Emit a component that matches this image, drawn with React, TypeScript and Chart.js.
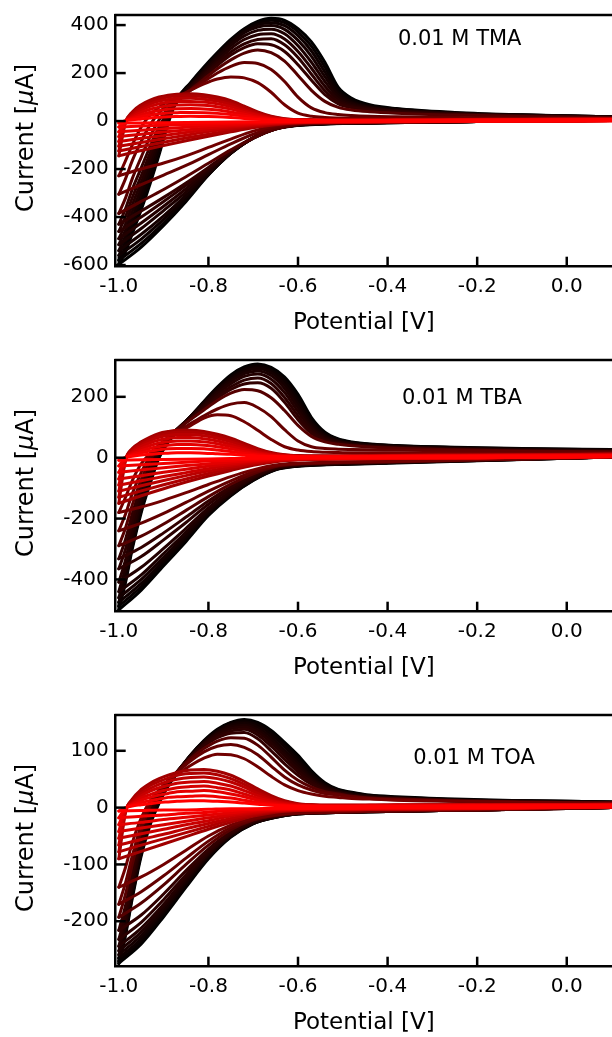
import React, { useEffect, useRef } from "react";
import { Chart, registerables } from "chart.js";

Chart.register(...registerables);

const FONT = '"DejaVu Sans", sans-serif';

// Potential grids (V) shared by every cycle
const POTENTIAL_TICKS = [-1.0, -0.8, -0.6, -0.4, -0.2, 0.0];
const CATHODIC_V = [0.1, -0.2, -0.4, -0.5, -0.55, -0.6, -0.65, -0.7, -0.75, -0.8, -0.85, -0.9, -0.95, -1.0];
const ANODIC_V = [-1.0, -0.985, -0.97, -0.95, -0.93, -0.91, -0.89, -0.87, -0.84, -0.81, -0.78, -0.75, -0.72, -0.69, -0.66, -0.63, -0.6, -0.57, -0.54, -0.51, -0.48, -0.44, -0.38, -0.25, -0.1, 0.1];

// ---------- 0.01 M TMA (µA), cycle 1 (black) ... last cycle (red) ----------
const TMA_TICKS = [-600, -400, -200, 0, 200, 400];
const TMA_ANODIC = [
  [-597, -545, -470, -370, -260, -140, -10, 90, 160, 225, 285, 340, 385, 415, 428, 420, 385, 330, 245, 140, 95, 68, 52, 36, 26, 18],
  [-580, -525, -450, -350, -245, -130, -5, 90, 157, 220, 281, 336, 381, 409, 420, 410, 372, 312, 225, 130, 88, 64, 50, 34, 25, 18],
  [-560, -502, -428, -330, -225, -115, 0, 88, 153, 215, 277, 332, 376, 402, 410, 398, 356, 292, 205, 120, 82, 61, 48, 33, 25, 18],
  [-540, -480, -405, -305, -200, -95, 8, 87, 150, 210, 270, 325, 368, 392, 398, 382, 336, 270, 185, 110, 77, 58, 46, 32, 24, 18],
  [-515, -455, -378, -280, -178, -78, 15, 85, 146, 204, 262, 315, 355, 378, 383, 364, 314, 245, 165, 100, 72, 55, 44, 31, 23, 17],
  [-490, -428, -350, -255, -155, -60, 22, 82, 141, 197, 252, 302, 340, 360, 364, 342, 290, 220, 145, 90, 66, 52, 42, 30, 22, 16],
  [-460, -398, -320, -228, -132, -42, 30, 80, 136, 190, 242, 288, 322, 340, 343, 318, 265, 195, 127, 80, 61, 49, 40, 29, 21, 16],
  [-430, -365, -285, -195, -105, -25, 38, 80, 132, 183, 232, 275, 306, 322, 318, 290, 235, 170, 110, 72, 56, 46, 38, 28, 21, 15],
  [-385, -320, -240, -150, -65, 5, 52, 85, 130, 175, 218, 255, 283, 296, 285, 250, 190, 128, 82, 57, 46, 39, 33, 25, 19, 14],
  [-305, -240, -165, -85, -15, 35, 68, 92, 128, 165, 200, 228, 244, 240, 215, 165, 100, 55, 35, 27, 23, 20, 18, 15, 13, 12],
  [-228, -165, -100, -25, 25, 58, 82, 100, 128, 155, 175, 184, 180, 160, 120, 68, 33, 20, 15, 13, 12, 12, 12, 11, 11, 11],
  [-145, -5, 38, 68, 87, 100, 108, 112, 114, 110, 100, 85, 62, 38, 20, 10, 6, 5, 4, 4, 4, 4, 5, 6, 8, 10],
  [-125, -4, 33, 61, 80, 92, 100, 104, 105, 101, 92, 77, 56, 34, 18, 9, 5, 4, 4, 3, 3, 3, 4, 5, 7, 9],
  [-105, -3, 28, 53, 71, 83, 90, 94, 95, 91, 83, 69, 50, 30, 16, 8, 5, 4, 3, 3, 3, 3, 4, 5, 6, 8],
  [-85, -2, 23, 45, 61, 72, 78, 81, 82, 79, 72, 60, 43, 26, 14, 7, 4, 3, 3, 3, 3, 3, 3, 4, 6, 8],
  [-65, -1, 18, 36, 49, 58, 64, 67, 68, 66, 60, 50, 36, 22, 12, 6, 4, 3, 3, 3, 3, 3, 3, 4, 5, 7],
  [-45, 0, 13, 27, 37, 44, 49, 51, 52, 50, 46, 38, 28, 17, 9, 5, 3, 3, 2, 2, 2, 2, 3, 4, 5, 6],
  [-25, 1, 9, 18, 25, 30, 34, 35, 36, 35, 32, 27, 20, 12, 7, 4, 3, 2, 2, 2, 2, 2, 3, 3, 4, 5],
  [-8, 1, 5, 9, 13, 16, 18, 19, 20, 19, 18, 15, 11, 7, 4, 3, 2, 2, 2, 2, 2, 2, 2, 3, 4, 5],
];
const TMA_CATHODIC = [
  [4, -2, -7, -10, -13, -18, -32, -70, -135, -225, -335, -435, -525, -597],
  [4, -2, -7, -10, -12, -17, -32, -70, -135, -224, -328, -425, -510, -580],
  [4, -2, -7, -10, -12, -17, -32, -70, -134, -222, -320, -410, -492, -560],
  [3, -2, -6, -9, -12, -17, -31, -70, -133, -218, -310, -395, -472, -540],
  [3, -2, -6, -9, -11, -16, -31, -70, -132, -212, -296, -373, -448, -515],
  [3, -2, -6, -9, -11, -16, -32, -70, -130, -205, -282, -355, -425, -490],
  [3, -2, -6, -8, -10, -15, -32, -70, -128, -198, -268, -335, -400, -460],
  [3, -2, -6, -8, -10, -15, -33, -72, -128, -193, -258, -318, -375, -430],
  [3, -2, -5, -7, -9, -14, -33, -70, -120, -176, -232, -285, -335, -385],
  [2, -2, -5, -6, -8, -12, -26, -55, -95, -140, -185, -225, -265, -305],
  [2, -2, -5, -6, -7, -10, -20, -42, -75, -110, -145, -175, -200, -228],
  [2, -1, -3, -4, -5, -8, -15, -28, -45, -63, -82, -102, -123, -145],
  [2, -1, -3, -4, -5, -7, -13, -24, -39, -55, -71, -88, -106, -125],
  [2, -1, -3, -4, -5, -6, -11, -20, -31, -44, -59, -74, -89, -105],
  [2, -1, -2, -3, -4, -5, -9, -16, -25, -36, -48, -60, -72, -85],
  [2, -1, -2, -3, -4, -5, -8, -13, -20, -28, -37, -46, -55, -65],
  [1, -1, -2, -3, -3, -4, -6, -10, -15, -20, -26, -32, -38, -45],
  [1, -1, -1, -2, -2, -3, -4, -6, -9, -12, -15, -18, -21, -25],
  [1, 0, -1, -1, -1, -2, -2, -3, -4, -5, -6, -7, -8, -8],
];

// ---------- 0.01 M TBA (µA) ----------
const TBA_TICKS = [-400, -200, 0, 200];
const TBA_ANODIC = [
  [-500, -410, -300, -180, -85, 0, 50, 85, 135, 185, 232, 272, 298, 308, 297, 265, 208, 132, 84, 62, 52, 45, 40, 34, 30, 27],
  [-488, -400, -292, -172, -78, 5, 53, 87, 135, 183, 229, 268, 294, 304, 292, 258, 198, 124, 80, 60, 50, 44, 39, 33, 29, 26],
  [-475, -390, -283, -164, -70, 10, 56, 89, 135, 181, 226, 263, 289, 299, 286, 250, 188, 117, 76, 57, 48, 43, 38, 32, 28, 25],
  [-460, -378, -272, -155, -62, 15, 59, 91, 135, 179, 222, 258, 283, 293, 279, 240, 177, 110, 72, 55, 47, 42, 37, 31, 27, 24],
  [-440, -360, -258, -143, -52, 20, 62, 93, 134, 176, 217, 251, 276, 285, 270, 228, 165, 102, 68, 53, 45, 40, 36, 30, 26, 23],
  [-409, -335, -238, -128, -42, 25, 64, 94, 133, 172, 211, 243, 267, 275, 258, 214, 152, 95, 64, 51, 44, 39, 35, 29, 25, 22],
  [-365, -300, -210, -108, -30, 30, 66, 94, 131, 167, 203, 233, 255, 262, 244, 198, 138, 87, 60, 49, 42, 38, 34, 28, 24, 21],
  [-332, -268, -185, -92, -20, 33, 67, 93, 128, 162, 196, 224, 242, 246, 228, 182, 125, 80, 57, 47, 41, 37, 33, 27, 23, 20],
  [-289, -230, -155, -72, -8, 37, 68, 92, 125, 157, 188, 212, 224, 220, 197, 155, 106, 70, 52, 44, 39, 35, 31, 26, 22, 19],
  [-240, -185, -118, -48, 5, 40, 65, 85, 112, 138, 160, 176, 181, 165, 135, 92, 55, 36, 30, 28, 27, 26, 25, 22, 20, 18],
  [-180, -130, -75, -20, 15, 42, 62, 80, 105, 130, 141, 138, 118, 90, 60, 36, 25, 20, 18, 17, 16, 16, 16, 15, 14, 13],
  [-150, -8, 30, 52, 68, 80, 86, 90, 90, 86, 77, 64, 47, 30, 17, 10, 7, 6, 6, 6, 6, 7, 8, 9, 10, 12],
  [-130, -6, 27, 48, 63, 74, 80, 84, 84, 80, 71, 58, 42, 27, 15, 9, 6, 5, 5, 5, 6, 6, 7, 8, 9, 11],
  [-110, -5, 24, 43, 57, 67, 73, 76, 76, 72, 64, 52, 37, 23, 13, 8, 5, 5, 5, 5, 5, 6, 7, 8, 9, 11],
  [-90, -4, 20, 37, 49, 58, 63, 66, 66, 62, 55, 44, 31, 19, 11, 7, 5, 4, 4, 4, 5, 5, 6, 7, 8, 10],
  [-70, -3, 16, 30, 40, 48, 52, 55, 55, 52, 46, 37, 26, 16, 9, 6, 4, 4, 4, 4, 4, 5, 6, 7, 8, 9],
  [-48, -2, 12, 23, 31, 37, 41, 43, 43, 41, 36, 29, 20, 12, 7, 5, 4, 3, 3, 4, 4, 4, 5, 6, 7, 8],
  [-27, 0, 8, 16, 22, 26, 29, 30, 30, 29, 25, 20, 14, 9, 5, 4, 3, 3, 3, 3, 3, 4, 4, 5, 6, 7],
  [-8, 1, 5, 9, 11, 14, 15, 16, 16, 15, 13, 11, 8, 5, 4, 3, 3, 3, 3, 3, 3, 3, 4, 4, 5, 6],
];
const TBA_CATHODIC = [
  [2, -10, -18, -22, -24, -28, -40, -75, -125, -190, -275, -355, -435, -500],
  [2, -9, -17, -21, -23, -27, -39, -74, -123, -186, -268, -347, -424, -488],
  [2, -9, -17, -21, -23, -27, -38, -72, -121, -182, -262, -338, -413, -475],
  [2, -9, -16, -20, -22, -26, -37, -70, -118, -178, -255, -328, -400, -460],
  [2, -8, -16, -20, -22, -25, -36, -68, -115, -172, -245, -315, -385, -440],
  [2, -8, -15, -19, -21, -24, -35, -66, -110, -165, -232, -298, -360, -409],
  [2, -8, -15, -18, -20, -23, -33, -62, -103, -153, -213, -270, -325, -365],
  [2, -7, -14, -17, -19, -22, -31, -58, -96, -142, -195, -247, -295, -332],
  [2, -7, -13, -16, -18, -21, -29, -53, -87, -128, -173, -218, -258, -289],
  [2, -7, -13, -15, -17, -20, -27, -47, -76, -110, -147, -183, -215, -240],
  [2, -6, -12, -14, -16, -18, -24, -40, -62, -88, -115, -140, -162, -180],
  [6, 0, -3, -4, -5, -7, -13, -25, -42, -60, -80, -102, -125, -150],
  [5, 0, -3, -4, -5, -7, -12, -22, -36, -52, -70, -89, -109, -130],
  [5, 0, -2, -3, -4, -6, -10, -19, -31, -44, -59, -75, -92, -110],
  [5, 0, -2, -3, -4, -5, -9, -16, -25, -36, -49, -62, -76, -90],
  [4, 0, -2, -3, -3, -4, -7, -12, -20, -28, -38, -48, -59, -70],
  [4, 0, -1, -2, -2, -3, -5, -9, -14, -20, -26, -33, -40, -48],
  [3, 0, -1, -1, -2, -2, -3, -5, -8, -11, -15, -19, -23, -27],
  [3, 0, 0, -1, -1, -1, -2, -2, -3, -4, -5, -6, -7, -8],
];

// ---------- 0.01 M TOA (µA) ----------
const TOA_TICKS = [-200, -100, 0, 100];
const TOA_ANODIC = [
  [-274, -225, -160, -85, -30, 8, 38, 60, 92, 118, 138, 150, 155, 150, 136, 115, 92, 65, 44, 32, 27, 22, 19, 15, 12, 10],
  [-270, -221, -156, -81, -26, 10, 39, 61, 92, 117, 136, 149, 153, 148, 133, 111, 87, 61, 42, 31, 26, 21, 18, 14, 12, 10],
  [-265, -216, -151, -77, -23, 12, 40, 62, 92, 116, 135, 147, 151, 145, 129, 107, 83, 58, 40, 30, 25, 21, 18, 14, 12, 10],
  [-259, -210, -146, -73, -20, 14, 41, 62, 91, 115, 133, 145, 148, 141, 124, 101, 78, 54, 38, 29, 24, 20, 17, 13, 11, 9],
  [-252, -204, -140, -69, -16, 16, 42, 63, 91, 114, 131, 142, 145, 137, 119, 96, 73, 51, 36, 28, 23, 19, 17, 13, 11, 9],
  [-244, -196, -134, -64, -12, 18, 43, 63, 90, 112, 129, 139, 142, 133, 114, 91, 68, 48, 34, 27, 22, 19, 16, 13, 10, 9],
  [-232, -186, -125, -57, -8, 20, 44, 63, 89, 110, 126, 135, 138, 128, 108, 85, 63, 45, 32, 26, 22, 18, 16, 12, 10, 8],
  [-216, -172, -115, -50, -3, 23, 45, 63, 88, 108, 123, 131, 132, 121, 100, 77, 57, 41, 30, 25, 21, 18, 15, 12, 10, 8],
  [-193, -152, -100, -40, 3, 27, 47, 63, 86, 104, 117, 123, 122, 110, 89, 66, 48, 36, 28, 24, 20, 17, 15, 12, 10, 8],
  [-170, -132, -85, -30, 8, 30, 48, 62, 82, 98, 108, 111, 106, 93, 73, 54, 40, 31, 25, 22, 19, 16, 14, 11, 9, 8],
  [-140, -105, -62, -18, 12, 31, 46, 58, 74, 87, 94, 93, 86, 72, 55, 40, 30, 24, 20, 18, 16, 15, 13, 11, 9, 7],
  [-90, -8, 15, 32, 43, 51, 57, 62, 66, 67, 64, 57, 46, 33, 21, 12, 7, 5, 4, 4, 4, 4, 5, 5, 5, 6],
  [-78, -6, 13, 29, 39, 46, 52, 57, 60, 61, 58, 51, 41, 29, 18, 11, 6, 5, 4, 4, 4, 4, 4, 5, 5, 6],
  [-66, -5, 11, 25, 34, 41, 46, 50, 53, 54, 51, 45, 36, 25, 16, 9, 6, 4, 4, 4, 4, 4, 4, 5, 5, 5],
  [-54, -4, 9, 21, 29, 35, 39, 43, 45, 46, 43, 38, 30, 21, 13, 8, 5, 4, 3, 3, 3, 4, 4, 4, 5, 5],
  [-42, -3, 7, 17, 23, 28, 32, 35, 37, 38, 35, 31, 24, 17, 11, 7, 4, 3, 3, 3, 3, 3, 4, 4, 4, 5],
  [-30, -2, 6, 13, 18, 22, 25, 28, 29, 30, 28, 24, 19, 13, 8, 5, 4, 3, 3, 3, 3, 3, 3, 4, 4, 4],
  [-18, -1, 4, 9, 12, 15, 18, 19, 20, 21, 19, 17, 13, 9, 6, 4, 3, 3, 2, 2, 2, 3, 3, 3, 4, 4],
  [-6, 0, 3, 5, 7, 9, 10, 11, 12, 12, 11, 10, 8, 6, 4, 3, 2, 2, 2, 2, 2, 2, 2, 3, 3, 4],
];
const TOA_CATHODIC = [
  [0, -4, -7, -8, -9, -11, -17, -28, -52, -90, -140, -192, -240, -274],
  [0, -4, -7, -8, -9, -11, -17, -28, -51, -88, -137, -188, -236, -270],
  [0, -4, -7, -8, -9, -11, -17, -28, -50, -86, -134, -184, -231, -265],
  [0, -4, -7, -8, -9, -11, -16, -27, -49, -84, -131, -180, -225, -259],
  [0, -4, -7, -8, -9, -11, -16, -27, -48, -82, -127, -175, -219, -252],
  [0, -4, -7, -8, -9, -11, -16, -26, -47, -80, -123, -170, -212, -244],
  [0, -4, -6, -8, -9, -10, -15, -25, -45, -77, -118, -162, -202, -232],
  [0, -4, -6, -8, -9, -10, -15, -24, -43, -73, -111, -152, -189, -216],
  [0, -4, -6, -8, -9, -10, -14, -22, -39, -66, -100, -136, -168, -193],
  [0, -4, -6, -7, -8, -9, -13, -21, -35, -59, -89, -120, -148, -170],
  [0, -3, -5, -7, -8, -9, -12, -19, -31, -50, -75, -100, -122, -140],
  [2, -2, -3, -4, -4, -5, -8, -15, -26, -38, -51, -64, -77, -90],
  [2, -2, -3, -4, -4, -5, -7, -13, -22, -33, -44, -55, -66, -78],
  [2, -1, -3, -3, -4, -4, -6, -11, -19, -28, -37, -47, -56, -66],
  [2, -1, -2, -3, -3, -4, -5, -9, -15, -23, -30, -38, -46, -54],
  [2, -1, -2, -2, -3, -3, -4, -7, -12, -18, -24, -30, -36, -42],
  [1, -1, -1, -2, -2, -2, -3, -5, -9, -13, -17, -21, -26, -30],
  [1, -1, -1, -1, -1, -2, -2, -3, -5, -8, -10, -13, -15, -18],
  [1, 0, 0, -1, -1, -1, -1, -2, -2, -3, -4, -4, -5, -6],
];

const PANELS = [
  { top: 0, label: "0.01 M TMA", labelV: -0.239, labelI: 341, yMin: -607, yMax: 442, yTicks: TMA_TICKS, anodic: TMA_ANODIC, cathodic: TMA_CATHODIC },
  { top: 345, label: "0.01 M TBA", labelV: -0.234, labelI: 195, yMin: -506, yMax: 321, yTicks: TBA_TICKS, anodic: TBA_ANODIC, cathodic: TBA_CATHODIC },
  { top: 700, label: "0.01 M TOA", labelV: -0.207, labelI: 85.5, yMin: -280, yMax: 163, yTicks: TOA_TICKS, anodic: TOA_ANODIC, cathodic: TOA_CATHODIC },
];

const W = 612;
const H = 337;

function cycleColor(k: number): string {
  if (k <= 7) return `rgb(${k * 7},0,0)`;
  if (k <= 10) return `rgb(${85 + (k - 8) * 14},0,0)`;
  return `rgb(${Math.round(160 + ((k - 11) * 95) / 7)},0,0)`;
}

const decorPlugin = {
  id: "decor",
  afterDatasetsDraw(chart: any, _args: any, opts: any) {
    const { ctx, chartArea, scales } = chart;
    const xs = scales.x;
    const ys = scales.y;
    ctx.save();
    ctx.strokeStyle = "#000";
    ctx.lineWidth = 2.5;
    ctx.beginPath();
    ctx.moveTo(chartArea.left - 1.25, chartArea.top);
    ctx.lineTo(chartArea.right, chartArea.top);
    ctx.stroke();
    for (const t of xs.ticks) {
      const px = xs.getPixelForValue(t.value);
      ctx.beginPath();
      ctx.moveTo(px, chartArea.bottom);
      ctx.lineTo(px, chartArea.bottom - 10);
      ctx.stroke();
    }
    for (const t of ys.ticks) {
      const py = ys.getPixelForValue(t.value);
      ctx.beginPath();
      ctx.moveTo(chartArea.left, py);
      ctx.lineTo(chartArea.left + 10, py);
      ctx.stroke();
    }
    ctx.fillStyle = "#000";
    ctx.font = `21px ${FONT}`;
    ctx.textAlign = "center";
    ctx.textBaseline = "middle";
    ctx.fillText(opts.label, xs.getPixelForValue(opts.labelV), ys.getPixelForValue(opts.labelI));
    ctx.restore();
  },
  afterDraw(chart: any) {
    const ctx = chart.ctx;
    const size = 24;
    const parts: [string, string][] = [
      ["Current [", "normal"],
      ["\u00b5", "italic"],
      ["A]", "normal"],
    ];
    ctx.save();
    let total = 0;
    const widths = parts.map(([t, s]) => {
      ctx.font = `${s} ${size}px ${FONT}`;
      const w = ctx.measureText(t).width;
      total += w;
      return w;
    });
    ctx.translate(33, 138);
    ctx.rotate(-Math.PI / 2);
    ctx.fillStyle = "#000";
    ctx.textAlign = "left";
    ctx.textBaseline = "alphabetic";
    let x = -total / 2;
    parts.forEach(([t, s], i) => {
      ctx.font = `${s} ${size}px ${FONT}`;
      ctx.fillText(t, x, 0);
      x += widths[i];
    });
    ctx.restore();
  },
};

function buildConfig(p: any): any {
  const datasets: any[] = [];
  const n = p.anodic.length;
  for (let k = 0; k < n; k++) {
    const color = cycleColor(k);
    const common = {
      showLine: true,
      borderColor: color,
      backgroundColor: color,
      borderWidth: 3,
      pointRadius: 0,
      pointHoverRadius: 0,
      fill: false,
      cubicInterpolationMode: "monotone",
      borderJoinStyle: "round",
      borderCapStyle: "round",
      order: n - k,
    };
    datasets.push({
      ...common,
      data: CATHODIC_V.map((v, i) => ({ x: v, y: p.cathodic[k][i] })),
    });
    datasets.push({
      ...common,
      data: ANODIC_V.map((v, i) => ({ x: v, y: p.anodic[k][i] })),
    });
  }
  return {
    type: "scatter",
    data: { datasets },
    plugins: [decorPlugin],
    options: {
      animation: false,
      responsive: false,
      maintainAspectRatio: false,
      devicePixelRatio: 1,
      events: [],
      layout: { padding: { top: 15, left: 0, right: 0, bottom: 0 } },
      plugins: {
        legend: { display: false },
        tooltip: { enabled: false },
        decor: { label: p.label, labelV: p.labelV, labelI: p.labelI },
      },
      scales: {
        x: {
          type: "linear",
          min: -1.007,
          max: 0.101,
          afterBuildTicks: (s: any) => {
            s.ticks = POTENTIAL_TICKS.map((v) => ({ value: v }));
          },
          afterFit: (s: any) => {
            s.height = 70.3;
            s.paddingLeft = 0;
            s.paddingRight = 0;
            s.paddingTop = 0;
            s.paddingBottom = 0;
          },
          grid: { display: true, drawOnChartArea: false, drawTicks: false },
          border: { display: true, color: "#000", width: 2.5, z: 1 },
          ticks: {
            padding: 8,
            color: "#000",
            autoSkip: false,
            maxRotation: 0,
            font: { family: FONT, size: 20 },
            callback: (v: any) => Number(v).toFixed(1),
          },
          title: {
            display: true,
            text: "Potential [V]",
            color: "#000",
            font: { family: FONT, size: 23 },
            padding: 0,
          },
        },
        y: {
          type: "linear",
          min: p.yMin,
          max: p.yMax,
          afterBuildTicks: (s: any) => {
            s.ticks = p.yTicks.map((v: number) => ({ value: v }));
          },
          afterFit: (s: any) => {
            s.width = 115.7;
            s.paddingLeft = 0;
            s.paddingRight = 0;
            s.paddingTop = 0;
            s.paddingBottom = 0;
          },
          grid: { display: true, drawOnChartArea: false, drawTicks: false },
          border: { display: true, color: "#000", width: 2.5, z: 1 },
          ticks: {
            padding: 7,
            color: "#000",
            autoSkip: false,
            font: { family: FONT, size: 20 },
            callback: (v: any) => String(v),
          },
          title: { display: false },
        },
      },
    },
  };
}

function Panel({ p }: { p: any }) {
  const ref = useRef<HTMLCanvasElement | null>(null);
  useEffect(() => {
    if (!ref.current) return;
    const chart = new Chart(ref.current, buildConfig(p));
    return () => chart.destroy();
  }, [p]);
  return (
    <canvas
      ref={ref}
      width={W}
      height={H}
      style={{ position: "absolute", left: 0, top: p.top, width: W, height: H }}
    />
  );
}

export default function App() {
  return (
    <div
      style={{
        position: "absolute",
        left: 0,
        top: 0,
        width: 612,
        height: 1037,
        background: "#fff",
        overflow: "hidden",
      }}
    >
      {PANELS.map((p, i) => (
        <Panel key={i} p={p} />
      ))}
    </div>
  );
}
